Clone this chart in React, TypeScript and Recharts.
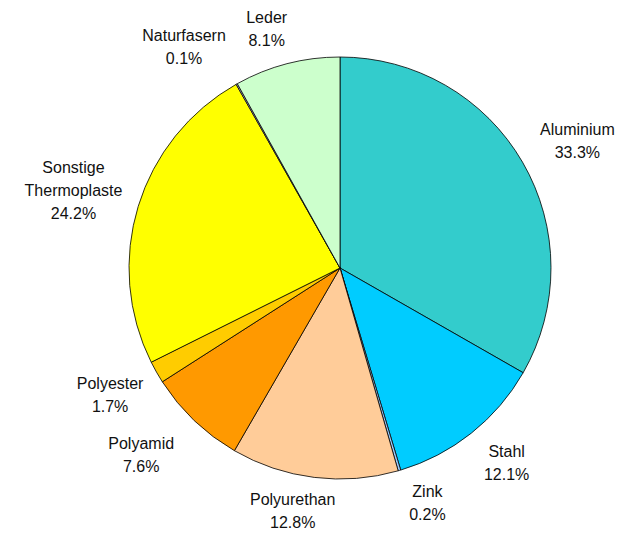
import { PieChart, Pie, Cell } from "recharts"

const categories = [
    "Aluminium",
    "Stahl",
    "Zink",
    "Polyurethan",
    "Polyamid",
    "Polyester",
    "Sonstige Thermoplaste",
    "Naturfasern",
    "Leder",
]
const shares = [33.3, 12.1, 0.2, 12.8, 7.6, 1.7, 24.2, 0.1, 8.1]
const colors = [
    "#33CCCC",
    "#00CCFF",
    "#99CCFF",
    "#FFCC99",
    "#FF9900",
    "#FFCC00",
    "#FFFF00",
    "#CCCCFF",
    "#CCFFCC",
]

const data = categories.map((name, i) => ({ name, value: shares[i] }))

// label layout tweaks: [angle shift in degrees clockwise, radial shift in px]
const labelNudge: Record<string, [number, number]> = {
    Aluminium: [2, 0],
    Stahl: [-2, 3],
    Zink: [-4, 3],
    Polyurethan: [4, -4],
    Polyamid: [3, 10],
    Polyester: [0.5, -6],
    "Sonstige Thermoplaste": [-0.8, -7],
    Naturfasern: [-6, 3],
    Leder: [-2.5, 1],
}

const RAD = Math.PI / 180
const LINE_H = 23
const FONT = 16

function renderLabel(props: any) {
    const { cx, cy, midAngle, outerRadius, name, value } = props
    const lines = [...String(name).split(" "), `${Number(value).toFixed(1)}%`]
    const longest = Math.max(...lines.map((l) => l.length))
    const halfW = (longest * FONT * 0.5) / 2
    const halfH = ((lines.length - 1) * LINE_H) / 2
    const [dAng, dRad] = labelNudge[name] ?? [0, 0]
    const angle = midAngle - dAng
    const cos = Math.cos(-angle * RAD)
    const sin = Math.sin(-angle * RAD)
    const r = outerRadius + 21 + dRad + halfW * Math.abs(cos) + halfH * Math.abs(sin)
    const x = cx + r * cos
    const y = cy + r * sin
    const top = y - ((lines.length - 1) * LINE_H) / 2
    return (
        <text
            x={x}
            y={top}
            textAnchor="middle"
            fill="#111"
            fontSize={FONT}
            fontFamily="Arial, 'Liberation Sans', sans-serif"
        >
            {lines.map((l, i) => (
                <tspan key={i} x={x} y={top + i * LINE_H + 5}>
                    {l}
                </tspan>
            ))}
        </text>
    )
}

export default function App() {
    return (
        <div style={{ position: "absolute", left: 0, top: 0, background: "#fff" }}>
            <PieChart width={633} height={533} margin={{ top: 0, right: 0, bottom: 0, left: 0 }}>
                <Pie
                    data={data}
                    dataKey="value"
                    nameKey="name"
                    cx={340}
                    cy={268}
                    outerRadius={211}
                    startAngle={90}
                    endAngle={-270}
                    stroke="#000"
                    strokeWidth={0.8}
                    label={renderLabel}
                    labelLine={false}
                    isAnimationActive={false}
                >
                    {data.map((d, i) => (
                        <Cell key={d.name} fill={colors[i]} />
                    ))}
                </Pie>
            </PieChart>
        </div>
    )
}
